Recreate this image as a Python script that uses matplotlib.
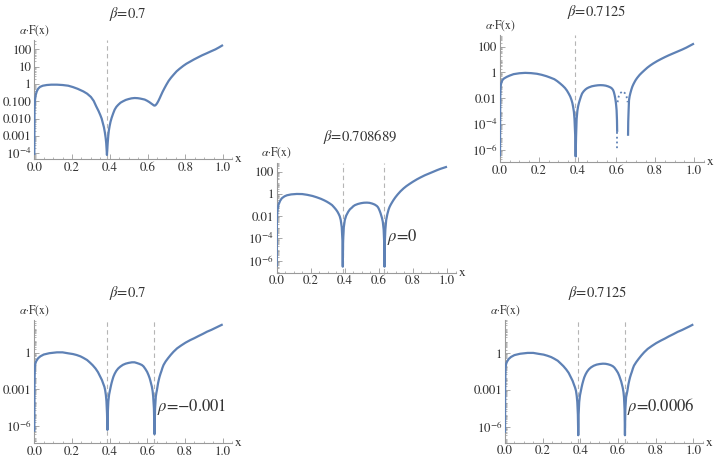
import numpy as np
import matplotlib
matplotlib.use("Agg")
import matplotlib.pyplot as plt
from matplotlib.ticker import LogLocator, MultipleLocator, NullFormatter

plt.rcParams['font.family'] = ['STIXGeneral', 'DejaVu Serif']
plt.rcParams['mathtext.fontset'] = 'stix'

W, H = 717, 461
LINE = "#5E81B5"
AXC = "#9a9a9a"
TXT = "#333333"

# ---- data: x and log10(alpha*F(x)) ----
# top-left, beta = 0.7
p1_x = [0.0, 0.001, 0.004, 0.008, 0.013, 0.02, 0.03, 0.045, 0.066, 0.09, 0.12, 0.15, 0.18,
        0.205, 0.23, 0.26, 0.28, 0.30, 0.315, 0.328, 0.34, 0.35, 0.357, 0.363, 0.369, 0.374,
        0.378, 0.381, 0.385, 0.389, 0.392, 0.395, 0.399, 0.404, 0.41, 0.418, 0.426, 0.435,
        0.445, 0.457, 0.47, 0.485, 0.50, 0.515, 0.532, 0.548, 0.56, 0.573, 0.585, 0.598,
        0.61, 0.62, 0.629, 0.634, 0.638, 0.642, 0.647, 0.652, 0.658, 0.665, 0.672, 0.68,
        0.69, 0.70, 0.712, 0.725, 0.74, 0.754, 0.77, 0.79, 0.806, 0.824, 0.845, 0.87, 0.89,
        0.913, 0.935, 0.96, 0.98, 1.0]
p1_logF = [-4.1, -1.5, -0.9, -0.62, -0.43, -0.28, -0.17, -0.1, -0.06, -0.04, -0.04, -0.06, -0.1,
           -0.18, -0.28, -0.43, -0.56, -0.75, -0.98, -1.29, -1.55, -1.8, -2.0, -2.25, -2.5, -2.8,
           -3.1, -3.4, -4.1, -3.4, -3.0, -2.7, -2.44, -2.18, -1.95, -1.7, -1.48, -1.32,
           -1.2, -1.08, -1.0, -0.92, -0.87, -0.83, -0.81, -0.82, -0.84, -0.87, -0.9, -0.97,
           -1.05, -1.13, -1.2, -1.24, -1.25, -1.23, -1.17, -1.09, -0.97, -0.81, -0.64, -0.45,
           -0.24, -0.04, 0.18, 0.37, 0.56, 0.73, 0.88, 1.05, 1.17, 1.28, 1.41, 1.55, 1.66,
           1.77, 1.88, 2.0, 2.12, 2.25]

# top-right, beta = 0.7125 (solid pieces and dotted pieces)
p2_xa = [0.0, 0.001, 0.003, 0.006, 0.012, 0.02, 0.035, 0.05, 0.07, 0.1, 0.13, 0.16, 0.19,
         0.215, 0.24, 0.26, 0.28, 0.295, 0.31, 0.323, 0.335, 0.345, 0.354, 0.362, 0.368,
         0.373, 0.377, 0.381, 0.384, 0.388, 0.39, 0.392, 0.395, 0.399, 0.403, 0.407, 0.412,
         0.417, 0.423, 0.431, 0.44, 0.448, 0.457, 0.473, 0.49, 0.505, 0.518, 0.532, 0.545,
         0.558, 0.57, 0.577, 0.583, 0.587, 0.591, 0.594, 0.597, 0.599, 0.601, 0.603, 0.604]
p2_logFa = [-6.5, -2.0, -1.1, -0.85, -0.6, -0.47, -0.34, -0.24, -0.13, -0.06, -0.03, -0.05, -0.1,
            -0.18, -0.29, -0.4, -0.52, -0.67, -0.85, -1.02, -1.2, -1.4, -1.63, -1.86, -2.1,
            -2.36, -2.67, -3.05, -3.6, -5.0, -6.5, -5.0, -3.6, -2.95, -2.6, -2.35, -2.1,
            -1.87, -1.63, -1.46, -1.32, -1.23, -1.16, -1.07, -1.02, -0.99, -0.98, -0.99, -1.02,
            -1.08, -1.16, -1.24, -1.36, -1.52, -1.76, -2.0, -2.3, -2.58, -2.92, -3.7, -4.6]
p2_xb = [0.66, 0.661, 0.663, 0.665, 0.668, 0.672, 0.677, 0.682, 0.688, 0.695, 0.70, 0.708,
         0.72, 0.73, 0.745, 0.76, 0.775, 0.79, 0.81, 0.83, 0.85, 0.87, 0.89, 0.915, 0.94,
         0.96, 0.98, 1.0]
p2_logFb = [-4.9, -3.8, -2.9, -2.15, -1.85, -1.6, -1.33, -1.1, -0.9, -0.7, -0.57, -0.4,
            -0.18, -0.03, 0.18, 0.38, 0.55, 0.7, 0.88, 1.04, 1.19, 1.33, 1.46, 1.62, 1.78,
            1.92, 2.08, 2.24]
p2_xdot1 = [0.604, 0.604]
p2_logFdot1 = [-4.6, -5.9]
p2_xdot2 = [0.606, 0.612, 0.62, 0.632, 0.644, 0.652, 0.658]
p2_logFdot2 = [-2.3, -1.85, -1.6, -1.45, -1.6, -1.85, -2.3]

# middle, beta = 0.708689, rho = 0
p3_x = [0.0, 0.001, 0.004, 0.01, 0.02, 0.03, 0.045, 0.06, 0.085, 0.118, 0.15, 0.18, 0.21,
        0.235, 0.26, 0.28, 0.295, 0.31, 0.325, 0.337, 0.348, 0.357, 0.364, 0.37, 0.376,
        0.382, 0.386, 0.388, 0.39, 0.394, 0.40, 0.408, 0.42, 0.43, 0.44, 0.45, 0.46, 0.477,
        0.495, 0.512, 0.53, 0.545, 0.56, 0.575, 0.588, 0.595, 0.60, 0.605, 0.61, 0.618,
        0.623, 0.628, 0.631, 0.633, 0.635, 0.638, 0.643, 0.65, 0.657, 0.663, 0.67, 0.678,
        0.686, 0.697, 0.71, 0.727, 0.745, 0.762, 0.78, 0.8, 0.824, 0.845, 0.87, 0.895, 0.92,
        0.94, 0.96, 0.98, 1.0]
p3_logF = [-6.54, -2.5, -1.5, -1.0, -0.62, -0.39, -0.22, -0.12, -0.04, 0.0, -0.01, -0.08, -0.18,
           -0.3, -0.44, -0.58, -0.7, -0.84, -1.0, -1.2, -1.4, -1.6, -1.8, -2.0, -2.34,
           -3.0, -4.2, -6.54, -4.2, -3.0, -2.34, -1.95, -1.6, -1.38, -1.25, -1.1, -1.0, -0.9,
           -0.83, -0.79, -0.78, -0.8, -0.86, -0.95, -1.08, -1.2, -1.35, -1.53, -1.74, -2.15,
           -2.5, -3.2, -4.3, -6.54, -4.3, -3.2, -2.34, -1.8, -1.4, -1.16, -0.95, -0.74,
           -0.54, -0.3, -0.05, 0.24, 0.5, 0.71, 0.9, 1.1, 1.32, 1.49, 1.68, 1.84, 2.0,
           2.13, 2.25, 2.35, 2.45]

# bottom-left, beta = 0.7, rho = -0.001
p4_x = [0.0, 0.001, 0.003, 0.006, 0.01, 0.02, 0.032, 0.05, 0.08, 0.12, 0.15, 0.18, 0.205,
        0.225, 0.245, 0.26, 0.28, 0.296, 0.31, 0.325, 0.338, 0.35, 0.359, 0.366, 0.372,
        0.376, 0.38, 0.383, 0.386, 0.388, 0.39, 0.393, 0.397, 0.402, 0.406, 0.41, 0.415,
        0.42, 0.427, 0.435, 0.445, 0.456, 0.47, 0.485, 0.50, 0.518, 0.532, 0.545, 0.558,
        0.571, 0.58, 0.59, 0.599, 0.606, 0.612, 0.616, 0.62, 0.624, 0.628, 0.631, 0.635,
        0.638, 0.641, 0.645, 0.648, 0.651, 0.654, 0.657, 0.661, 0.665, 0.67, 0.675, 0.68,
        0.686, 0.697, 0.71, 0.724, 0.739, 0.758, 0.78, 0.803, 0.828, 0.85, 0.87, 0.895,
        0.917, 0.94, 0.96, 0.98, 1.0]
p4_logF = [-6.5, -2.5, -1.15, -0.88, -0.7, -0.46, -0.3, -0.15, -0.04, 0.03, 0.03, -0.05, -0.11,
           -0.19, -0.3, -0.42, -0.6, -0.82, -1.03, -1.3, -1.6, -1.97, -2.25, -2.55, -2.8,
           -3.07, -3.5, -4.0, -5.0, -6.35, -5.0, -4.0, -3.45, -3.07, -2.77, -2.5, -2.22,
           -1.97, -1.72, -1.5, -1.3, -1.15, -1.0, -0.9, -0.84, -0.79, -0.79, -0.85, -0.92,
           -1.01, -1.13, -1.35, -1.58, -1.83, -2.08, -2.3, -2.55, -2.79, -3.15, -3.6, -4.6,
           -6.7, -4.6, -3.6, -3.3, -3.07, -2.78, -2.5, -2.22, -1.97, -1.72, -1.5, -1.25,
           -1.01, -0.72, -0.45, -0.18, 0.08, 0.36, 0.6, 0.83, 1.04, 1.2, 1.36, 1.55,
           1.73, 1.88, 2.03, 2.18, 2.33]

# bottom-right, beta = 0.7125, rho = 0.0006
p5_x = [0.0, 0.001, 0.003, 0.006, 0.01, 0.02, 0.032, 0.05, 0.08, 0.12, 0.15, 0.18, 0.205,
        0.225, 0.245, 0.26, 0.28, 0.296, 0.31, 0.325, 0.338, 0.35, 0.359, 0.366, 0.372,
        0.377, 0.381, 0.384, 0.387, 0.389, 0.391, 0.394, 0.398, 0.403, 0.407, 0.411, 0.416,
        0.421, 0.428, 0.436, 0.446, 0.457, 0.471, 0.486, 0.502, 0.52, 0.534, 0.547, 0.56,
        0.572, 0.581, 0.591, 0.6, 0.607, 0.612, 0.617, 0.621, 0.625, 0.629, 0.632, 0.635,
        0.637, 0.639, 0.643, 0.647, 0.65, 0.653, 0.656, 0.66, 0.664, 0.669, 0.674, 0.679,
        0.685, 0.697, 0.71, 0.724, 0.739, 0.758, 0.78, 0.803, 0.828, 0.85, 0.87, 0.895,
        0.917, 0.94, 0.96, 0.98, 1.0]
p5_logF = [-6.5, -2.5, -1.15, -0.88, -0.7, -0.46, -0.3, -0.15, -0.04, 0.03, 0.03, -0.05, -0.11,
           -0.2, -0.31, -0.43, -0.61, -0.84, -1.05, -1.32, -1.6, -1.97, -2.25, -2.55, -2.8,
           -3.07, -3.5, -4.0, -5.0, -6.7, -5.0, -4.0, -3.45, -3.07, -2.77, -2.5, -2.22,
           -1.97, -1.72, -1.5, -1.3, -1.15, -1.02, -0.93, -0.88, -0.85, -0.86, -0.9, -0.96,
           -1.05, -1.17, -1.38, -1.6, -1.85, -2.08, -2.3, -2.55, -2.8, -3.15, -3.6, -4.6,
           -6.7, -4.6, -3.6, -3.3, -3.07, -2.78, -2.5, -2.22, -1.97, -1.72, -1.5, -1.25,
           -1.01, -0.72, -0.45, -0.18, 0.08, 0.36, 0.6, 0.83, 1.04, 1.21, 1.38, 1.57,
           1.75, 1.9, 2.05, 2.2, 2.36]

# tick labels
p1_yticks = [1e2, 1e1, 1, 1e-1, 1e-2, 1e-3, 1e-4]
p1_ylabels = ["100", "10", "1", "0.100", "0.010", "0.001", r"$10^{-4}$"]
p23_yticks = [1e2, 1, 1e-2, 1e-4, 1e-6]
p23_ylabels = ["100", "1", "0.01", r"$10^{-4}$", r"$10^{-6}$"]
p45_yticks = [1, 1e-3, 1e-6]
p45_ylabels = ["1", "0.001", r"$10^{-6}$"]
xticks = [0.0, 0.2, 0.4, 0.6, 0.8, 1.0]
xlabels = ["0.0", "0.2", "0.4", "0.6", "0.8", "1.0"]

fig = plt.figure(figsize=(W / 100, H / 100), dpi=100)


def make_axes(left, unit, top, bottom, ylo, yhi, yticks, ylabels):
    right = left + 1.05 * unit
    ax = fig.add_axes([left / W, 1 - bottom / H, (right - left) / W, (bottom - top) / H])
    ax.set_xlim(0, 1.05)
    ax.set_yscale('log')
    ax.set_ylim(10 ** ylo, 10 ** yhi)
    for s in ['top', 'right']:
        ax.spines[s].set_visible(False)
    for s in ['left', 'bottom']:
        ax.spines[s].set_color(AXC)
        ax.spines[s].set_linewidth(0.8)
    ax.set_xticks(xticks)
    ax.set_xticklabels(xlabels)
    ax.xaxis.set_minor_locator(MultipleLocator(0.05))
    ax.set_yticks(yticks)
    ax.set_yticklabels(ylabels)
    ax.yaxis.set_minor_locator(LogLocator(base=10, subs=np.arange(2, 10), numticks=100))
    ax.yaxis.set_minor_formatter(NullFormatter())
    ax.tick_params(which='major', direction='in', length=3.5, width=0.6, color=AXC,
                   labelsize=9.3, labelcolor=TXT, pad=2)
    ax.tick_params(which='minor', direction='in', length=1.6, width=0.5, color=AXC)
    ax.patch.set_alpha(0)
    ax.annotate('x', xy=(1, 0), xycoords='axes fraction', xytext=(2, 0),
                textcoords='offset points', ha='left', va='center', fontsize=9.5, color=TXT)
    ax.annotate(r'$\alpha$·F(x)', xy=(0, 1), xycoords='axes fraction', xytext=(0, 7),
                textcoords='offset points', ha='center', va='center', fontsize=8.3, color=TXT)
    return ax


def vlines(ax, xs):
    for xv in xs:
        ax.axvline(xv, color="#b5b5b5", lw=0.8, ls=(0, (4, 3)), zorder=1)


def curve(ax, x, logF, ls='-'):
    y = 10.0 ** np.array(logF)
    ax.plot(x, y, color=LINE, lw=1.6 if ls == '-' else 1.3, ls=ls, zorder=3,
            solid_capstyle='butt', solid_joinstyle='round')


def title(px, py, s):
    fig.text(px / W, 1 - py / H, s, ha='center', va='center', fontsize=10.5, color=TXT)


# panel 1
ax1 = make_axes(34.3, 188.7, 40, 159.3, -4.35, 2.54, p1_yticks, p1_ylabels)
vlines(ax1, [0.387])
curve(ax1, p1_x, p1_logF)
title(128, 14, r'$\beta$=0.7')

# panel 2
ax2 = make_axes(500, 194, 35, 162.3, -6.95, 2.9, p23_yticks, p23_ylabels)
vlines(ax2, [0.388])
curve(ax2, p2_xa, p2_logFa)
curve(ax2, p2_xb, p2_logFb)
curve(ax2, p2_xdot1, p2_logFdot1, ls=':')
curve(ax2, p2_xdot2, p2_logFdot2, ls=':')
title(597, 12, r'$\beta$=0.7125')

# panel 3
ax3 = make_axes(276.7, 170.3, 162.7, 272.7, -7.08, 2.81, p23_yticks, p23_ylabels)
vlines(ax3, [0.388, 0.633])
curve(ax3, p3_x, p3_logF)
ax3.text(0.647, 10 ** -3.85, r'$\rho$=0', ha='left', va='center', fontsize=12, color=TXT)
title(360, 137, r'$\beta$=0.708689')

# panel 4
ax4 = make_axes(34.3, 188.4, 320, 443.3, -7.45, 2.69, p45_yticks, p45_ylabels)
vlines(ax4, [0.388, 0.637])
curve(ax4, p4_x, p4_logF)
ax4.text(0.65, 10 ** -4.44, r'$\rho$=−0.001', ha='left', va='center', fontsize=12, color=TXT)
title(128, 293, r'$\beta$=0.7')

# panel 5
ax5 = make_axes(505, 188.3, 320, 442.7, -7.31, 2.72, p45_yticks, p45_ylabels)
vlines(ax5, [0.389, 0.637])
curve(ax5, p5_x, p5_logF)
ax5.text(0.646, 10 ** -4.37, r'$\rho$=0.0006', ha='left', va='center', fontsize=12, color=TXT)
title(598, 293, r'$\beta$=0.7125')

fig.savefig("out.png", dpi=100)
